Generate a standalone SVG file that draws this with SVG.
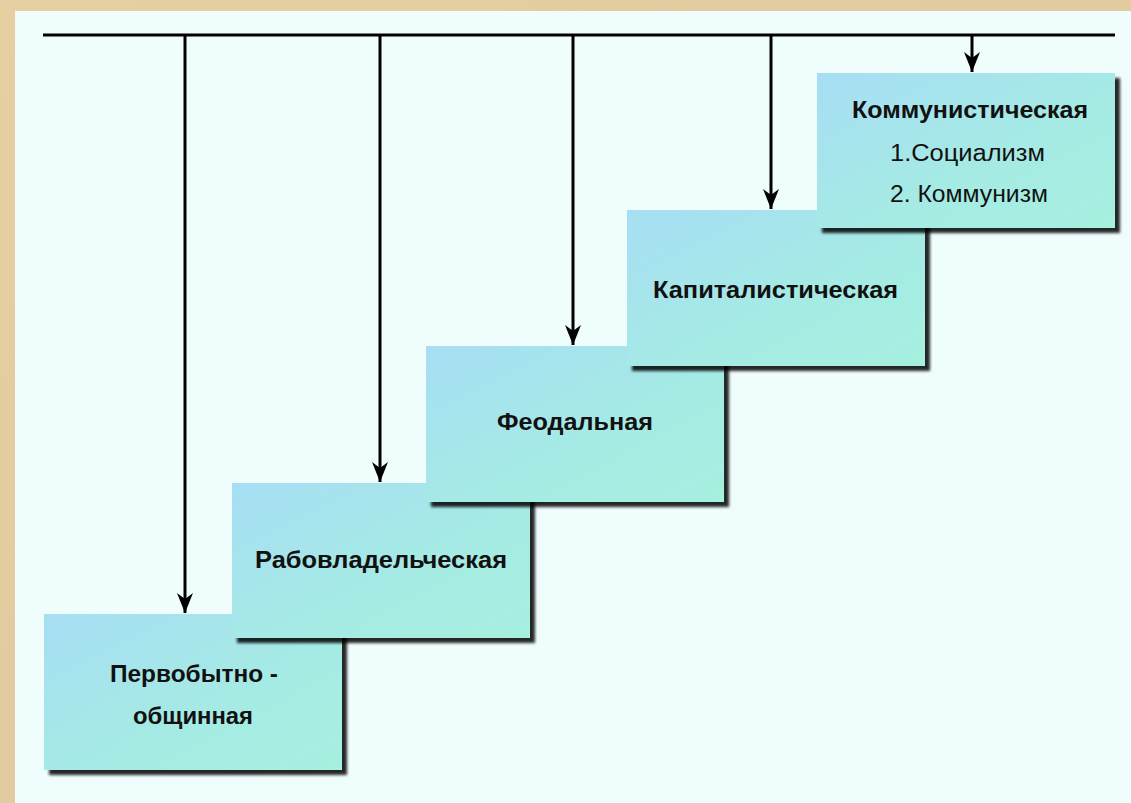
<svg xmlns="http://www.w3.org/2000/svg" width="1131" height="803" viewBox="0 0 1131 803">
<defs>
<linearGradient id="frame" x1="0" y1="0" x2="1" y2="1">
<stop offset="0" stop-color="#e6cfa3"/>
<stop offset="1" stop-color="#dcc79c"/>
</linearGradient>
<linearGradient id="boxg" x1="0" y1="0" x2="1" y2="1">
<stop offset="0" stop-color="#a7def4"/>
<stop offset="0.6" stop-color="#a5ebe4"/>
<stop offset="1" stop-color="#a6f0df"/>
</linearGradient>
<filter id="sh" x="-5%" y="-5%" width="115%" height="120%">
<feGaussianBlur in="SourceAlpha" stdDeviation="1.5"/>
<feOffset dx="5" dy="5" result="b"/>
<feComponentTransfer><feFuncA type="linear" slope="0.85"/></feComponentTransfer>
<feMerge><feMergeNode/><feMergeNode in="SourceGraphic"/></feMerge>
</filter>
<marker id="ah" viewBox="0 0 20 16" refX="20" refY="8" markerWidth="20" markerHeight="16" markerUnits="userSpaceOnUse" orient="auto">
<path d="M0,0 L20,8 L0,16 L6,8 Z" fill="#000"/>
</marker>
</defs>
<style>
.box{fill:url(#boxg);filter:url(#sh)}
.t{font-family:"Liberation Sans",Arial,sans-serif;font-size:23px;fill:#111;text-anchor:middle}
.b{font-weight:bold}
.con{stroke:#000;stroke-width:3;fill:none}
</style>
<rect width="1131" height="803" fill="url(#frame)"/>
<rect x="15" y="11" width="1116" height="792" fill="#f0fdfd"/>
<g id="connectors">
<line class="con" x1="43" y1="35" x2="1115" y2="35"/>
<line class="con" x1="185" y1="35" x2="185" y2="613" marker-end="url(#ah)"/>
<line class="con" x1="380" y1="35" x2="380" y2="482" marker-end="url(#ah)"/>
<line class="con" x1="573" y1="35" x2="573" y2="345" marker-end="url(#ah)"/>
<line class="con" x1="771" y1="35" x2="771" y2="209" marker-end="url(#ah)"/>
<line class="con" x1="972" y1="35" x2="972" y2="72" marker-end="url(#ah)"/>
</g>
<g id="n1">
<rect class="box" x="44" y="614" width="298" height="156"/>
<text class="t b" x="194" y="682" textLength="168" lengthAdjust="spacingAndGlyphs">Первобытно -</text>
<text class="t b" x="193" y="724" textLength="120" lengthAdjust="spacingAndGlyphs">общинная</text>
</g>
<g id="n2">
<rect class="box" x="232" y="483" width="298" height="155"/>
<text class="t b" x="381" y="568" textLength="252" lengthAdjust="spacingAndGlyphs">Рабовладельческая</text>
</g>
<g id="n3">
<rect class="box" x="426" y="346" width="298" height="156"/>
<text class="t b" x="575" y="430" textLength="156" lengthAdjust="spacingAndGlyphs">Феодальная</text>
</g>
<g id="n4">
<rect class="box" x="627" y="210" width="298" height="156"/>
<text class="t b" x="775.5" y="298" textLength="245" lengthAdjust="spacingAndGlyphs">Капиталистическая</text>
</g>
<g id="n5">
<rect class="box" x="817" y="73" width="298" height="155"/>
<text class="t b" x="970" y="118" textLength="236" lengthAdjust="spacingAndGlyphs">Коммунистическая</text>
<text class="t" x="967.5" y="161" textLength="155" lengthAdjust="spacingAndGlyphs">1.Социализм</text>
<text class="t" x="969" y="202" textLength="158" lengthAdjust="spacingAndGlyphs">2. Коммунизм</text>
</g>
</svg>
